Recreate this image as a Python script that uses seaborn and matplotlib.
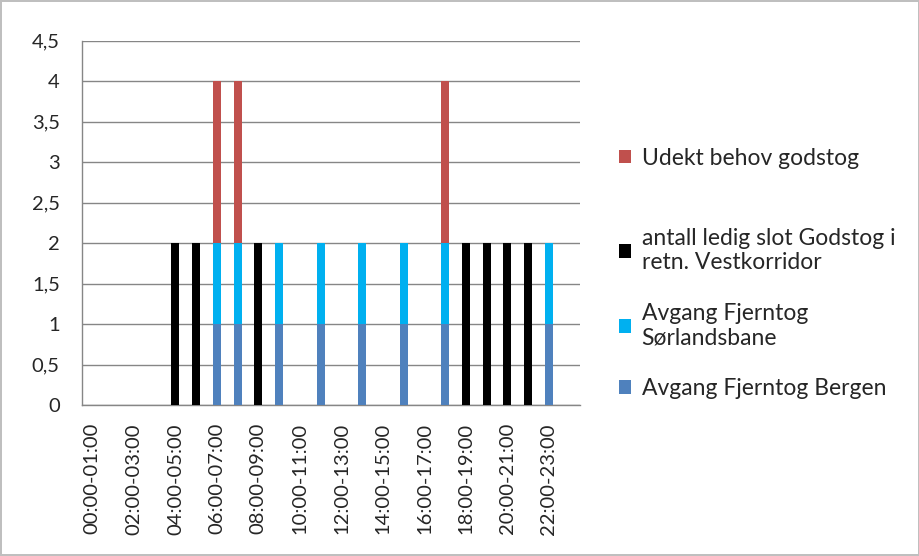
import numpy as np
import pandas as pd
import matplotlib
matplotlib.use("Agg")
import matplotlib.pyplot as plt
import seaborn as sns
from matplotlib.patches import Patch

# timeslots (one per hour)
slots = ["00:00-01:00", "01:00-02:00", "02:00-03:00", "03:00-04:00",
         "04:00-05:00", "05:00-06:00", "06:00-07:00", "07:00-08:00",
         "08:00-09:00", "09:00-10:00", "10:00-11:00", "11:00-12:00",
         "12:00-13:00", "13:00-14:00", "14:00-15:00", "15:00-16:00",
         "16:00-17:00", "17:00-18:00", "18:00-19:00", "19:00-20:00",
         "20:00-21:00", "21:00-22:00", "22:00-23:00", "23:00-24:00"]

bergen  = [0, 0, 0, 0, 0, 0, 1, 1, 0, 1, 0, 1, 0, 1, 0, 1, 0, 1, 0, 0, 0, 0, 1, 0]
sorland = [0, 0, 0, 0, 0, 0, 1, 1, 0, 1, 0, 1, 0, 1, 0, 1, 0, 1, 0, 0, 0, 0, 1, 0]
ledig   = [0, 0, 0, 0, 2, 2, 0, 0, 2, 0, 0, 0, 0, 0, 0, 0, 0, 0, 2, 2, 2, 2, 0, 0]
udekt   = [0, 0, 0, 0, 0, 0, 2, 2, 0, 0, 0, 0, 0, 0, 0, 0, 0, 2, 0, 0, 0, 0, 0, 0]

names = ["Udekt behov godstog",
         "antall ledig slot Godstog i\nretn. Vestkorridor",
         "Avgang Fjerntog\nSørlandsbane",
         "Avgang Fjerntog Bergen"]
colors = ["#C0504D", "#000000", "#00B0F0", "#4F81BD"]

sns.set_style("white")
plt.rcParams["font.family"] = ["Lato", "DejaVu Sans"]

df = pd.DataFrame({"slot": slots, "bergen": bergen, "sorland": sorland,
                   "ledig": ledig, "udekt": udekt})
# cumulative totals, drawn tallest first so the lower layers sit on top
df["c1"] = df["bergen"]
df["c2"] = df["c1"] + df["sorland"]
df["c3"] = df["c2"] + df["ledig"]
df["c4"] = df["c3"] + df["udekt"]

fig = plt.figure(figsize=(9.2, 5.56), dpi=100)
fig.patch.set_edgecolor("#BFBFBF")
fig.patch.set_linewidth(1.5)
ax = fig.add_axes([82 / 920, 1 - 405 / 556, (580 - 82) / 920, (405 - 40.5) / 556])

grid_c = "#868686"
for col, c in zip(["c4", "c3", "c2", "c1"], colors):
    sns.barplot(data=df, x="slot", y=col, color=c, saturation=1, width=0.385,
                linewidth=0, ax=ax, zorder=3)

ax.set_xlim(-0.5, 23.5)
ax.set_ylim(0, 4.5)
yt = np.arange(0, 4.51, 0.5)
ax.set_yticks(yt)
ax.set_yticklabels([f"{v:g}".replace(".", ",") for v in yt], fontsize=14.5)
ax.set_xticks(range(0, 24, 2))
ax.set_xticklabels(slots[::2], rotation=90, fontsize=14.5)
ax.set_xticks(np.arange(-0.5, 24, 1), minor=True)
ax.tick_params(axis="x", which="major", length=0, pad=13)
ax.tick_params(axis="x", which="minor", length=5, color=grid_c, width=1)
ax.tick_params(axis="y", length=5, color=grid_c, width=1, pad=11)
ax.set_xlabel("")
ax.set_ylabel("")
ax.yaxis.grid(True, color=grid_c, linewidth=1, zorder=0)
ax.set_axisbelow(True)
for s in ["top", "right"]:
    ax.spines[s].set_visible(False)
for s in ["left", "bottom"]:
    ax.spines[s].set_color(grid_c)
    ax.spines[s].set_linewidth(1)

# legend in two parts: Excel leaves a wider gap after the first entry
handles = [Patch(facecolor=c, edgecolor="none") for c in colors]
leg_kw = dict(loc="upper left", frameon=False, fontsize=16.5, handlelength=0.55,
              handleheight=0.55, handletextpad=0.45, labelspacing=1.3)
fig.legend(handles[:1], names[:1], bbox_to_anchor=(598 / 920, 1 - 127 / 556), **leg_kw)
fig.legend(handles[1:], names[1:], bbox_to_anchor=(598 / 920, 1 - 207 / 556), **leg_kw)

fig.savefig("out.png", dpi=100)
